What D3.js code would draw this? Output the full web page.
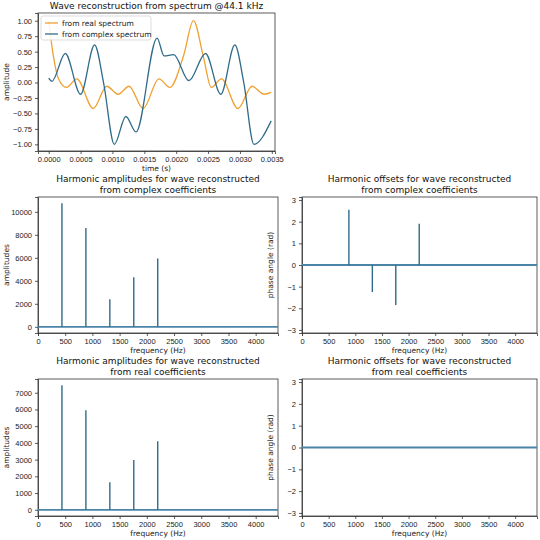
<!DOCTYPE html>
<html><head><meta charset="utf-8">
<script src="https://cdn.jsdelivr.net/npm/d3@7"></script>
<style>
body{margin:0;background:#fff;font-family:"DejaVu Sans",sans-serif}
.tick text{font-size:7.5px;fill:#222}
.tick line,.domain{stroke:#333;stroke-width:0.8}
</style></head><body><svg id="c" width="540" height="540"></svg>
<script>
// top plot: wave samples
var realT   = [0,0.00007,0.00015,0.00028,0.00044,0.0007,0.00091,0.00109,0.00126,0.00148,0.00173,0.0019,0.00212,0.00227,0.00243,0.00255,0.00271,0.00297,0.00319,0.00338,0.00349];
var realV   = [1.0,0.45,0.07,-0.08,0.06,-0.42,-0.06,-0.19,-0.06,-0.42,0.06,-0.08,0.45,1.0,0.4,-0.08,0.06,-0.42,-0.06,-0.19,-0.16];
var cplxT   = [0,0.00005,0.00026,0.0005,0.00072,0.00086,0.00103,0.00121,0.00137,0.0017,0.00181,0.00196,0.0022,0.00246,0.0027,0.00292,0.00306,0.00322,0.00349];
var cplxV   = [0.07,0.02,0.47,-0.19,0.61,0.0,-1.0,-0.55,-0.80,0.72,0.43,0.45,0.03,0.47,-0.19,0.61,0.0,-1.0,-0.62];

// harmonic stems
var freqs      = [440,880,1320,1760,2200];
var ampComplex = [10750,8600,2400,4300,5950];
var phaseComplex = [0,2.55,-1.25,-1.85,1.9];
var ampReal    = [7450,5950,1650,2980,4100];
var phaseReal  = [0,0,0,0,0];

var orange = "#f0a030", blue = "#2f6b8a";
var svg = d3.select("#c");

function panel(box, xDom, yDom, xTicks, yTicks, xFmt, yFmt, title, xLab, yLab) {
  var x = d3.scaleLinear().domain(xDom).range([box.l, box.r]);
  var y = d3.scaleLinear().domain(yDom).range([box.b, box.t]);
  var g = svg.append("g");
  g.append("g").attr("transform", "translate(0," + box.b + ")")
    .call(d3.axisBottom(x).tickValues(xTicks).tickFormat(xFmt).tickSizeOuter(0).tickSize(3));
  g.append("g").attr("transform", "translate(" + box.l + ",0)")
    .call(d3.axisLeft(y).tickValues(yTicks).tickFormat(yFmt).tickSizeOuter(0).tickSize(3));
  g.append("rect").attr("x", box.l).attr("y", box.t).attr("width", box.r - box.l).attr("height", box.b - box.t)
    .attr("fill", "none").attr("stroke", "#333").attr("stroke-width", 0.8);
  title.forEach(function(s, i){
    g.append("text").attr("x", (box.l + box.r) / 2).attr("y", box.t - 4 - (title.length - 1 - i) * 11)
      .attr("text-anchor", "middle").attr("font-size", 9).attr("fill", "#111").text(s);
  });
  g.append("text").attr("x", (box.l + box.r) / 2).attr("y", box.b + 20).attr("text-anchor", "middle")
    .attr("font-size", 7.5).attr("fill", "#222").text(xLab);
  g.append("text").attr("transform", "translate(" + (box.l - 29) + "," + ((box.t + box.b) / 2) + ") rotate(-90)")
    .attr("text-anchor", "middle").attr("font-size", 7.5).attr("fill", "#222").text(yLab);
  return {x: x, y: y, g: g};
}

// top wave plot
var wave = panel({l:38, r:275, t:13, b:151}, [-0.000168, 0.00355], [-1.108, 1.125],
  d3.range(0, 0.00351, 0.0005), d3.range(-1, 1.01, 0.25), d3.format(".4f"), d3.format(".2f"),
  ["Wave reconstruction from spectrum @44.1 kHz"], "time (s)", "amplitude");
var line = d3.line().curve(d3.curveMonotoneX).x(function(d){ return wave.x(d[0]); }).y(function(d){ return wave.y(d[1]); });
wave.g.append("path").datum(d3.zip(realT, realV)).attr("d", line).attr("fill", "none").attr("stroke", orange).attr("stroke-width", 1.3);
wave.g.append("path").datum(d3.zip(cplxT, cplxV)).attr("d", line).attr("fill", "none").attr("stroke", blue).attr("stroke-width", 1.3);
var lg = wave.g.append("g").attr("transform", "translate(41,16)");
lg.append("rect").attr("width", 110).attr("height", 24).attr("fill", "#fff").attr("fill-opacity", 0.85).attr("stroke", "#ddd").attr("rx", 2);
[["from real spectrum", orange], ["from complex spectrum", blue]].forEach(function(d, i){
  lg.append("line").attr("x1", 4).attr("x2", 17).attr("y1", 7 + i * 11).attr("y2", 7 + i * 11).attr("stroke", d[1]).attr("stroke-width", 1.3);
  lg.append("text").attr("x", 21).attr("y", 10 + i * 11).attr("font-size", 7.5).attr("fill", "#222").text(d[0]);
});

function stems(p, vals) {
  p.g.append("line").attr("x1", p.x(0)).attr("x2", p.x(4410)).attr("y1", p.y(0)).attr("y2", p.y(0))
    .attr("stroke", "#4a85a8").attr("stroke-width", 1.8);
  p.g.selectAll(".stem").data(d3.zip(freqs, vals)).enter().append("line")
    .attr("x1", function(d){ return p.x(d[0]); }).attr("x2", function(d){ return p.x(d[0]); })
    .attr("y1", p.y(0)).attr("y2", function(d){ return p.y(d[1]); })
    .attr("stroke", blue).attr("stroke-width", 1.4);
}

var fT = d3.range(0, 4001, 500), fmt = d3.format("d");
var ampC = panel({l:38, r:278, t:197, b:333}, [0, 4410], [-540, 11290], fT, d3.range(0, 10001, 2000), fmt, fmt,
  ["Harmonic amplitudes for wave reconstructed", "from complex coefficients"], "frequency (Hz)", "amplitudes");
stems(ampC, ampComplex);
var phC = panel({l:302, r:537, t:197, b:333}, [0, 4410], [-3.14, 3.14], fT, d3.range(-3, 4), fmt, fmt,
  ["Harmonic offsets for wave reconstructed", "from complex coefficients"], "frequency (Hz)", "phase angle (rad)");
stems(phC, phaseComplex);
var ampR = panel({l:38, r:278, t:379, b:516}, [0, 4410], [-372, 7822], fT, d3.range(0, 7001, 1000), fmt, fmt,
  ["Harmonic amplitudes for wave reconstructed", "from real coefficients"], "frequency (Hz)", "amplitudes");
stems(ampR, ampReal);
var phR = panel({l:302, r:537, t:379, b:516}, [0, 4410], [-3.14, 3.14], fT, d3.range(-3, 4), fmt, fmt,
  ["Harmonic offsets for wave reconstructed", "from real coefficients"], "frequency (Hz)", "phase angle (rad)");
stems(phR, phaseReal);
</script></body></html>
